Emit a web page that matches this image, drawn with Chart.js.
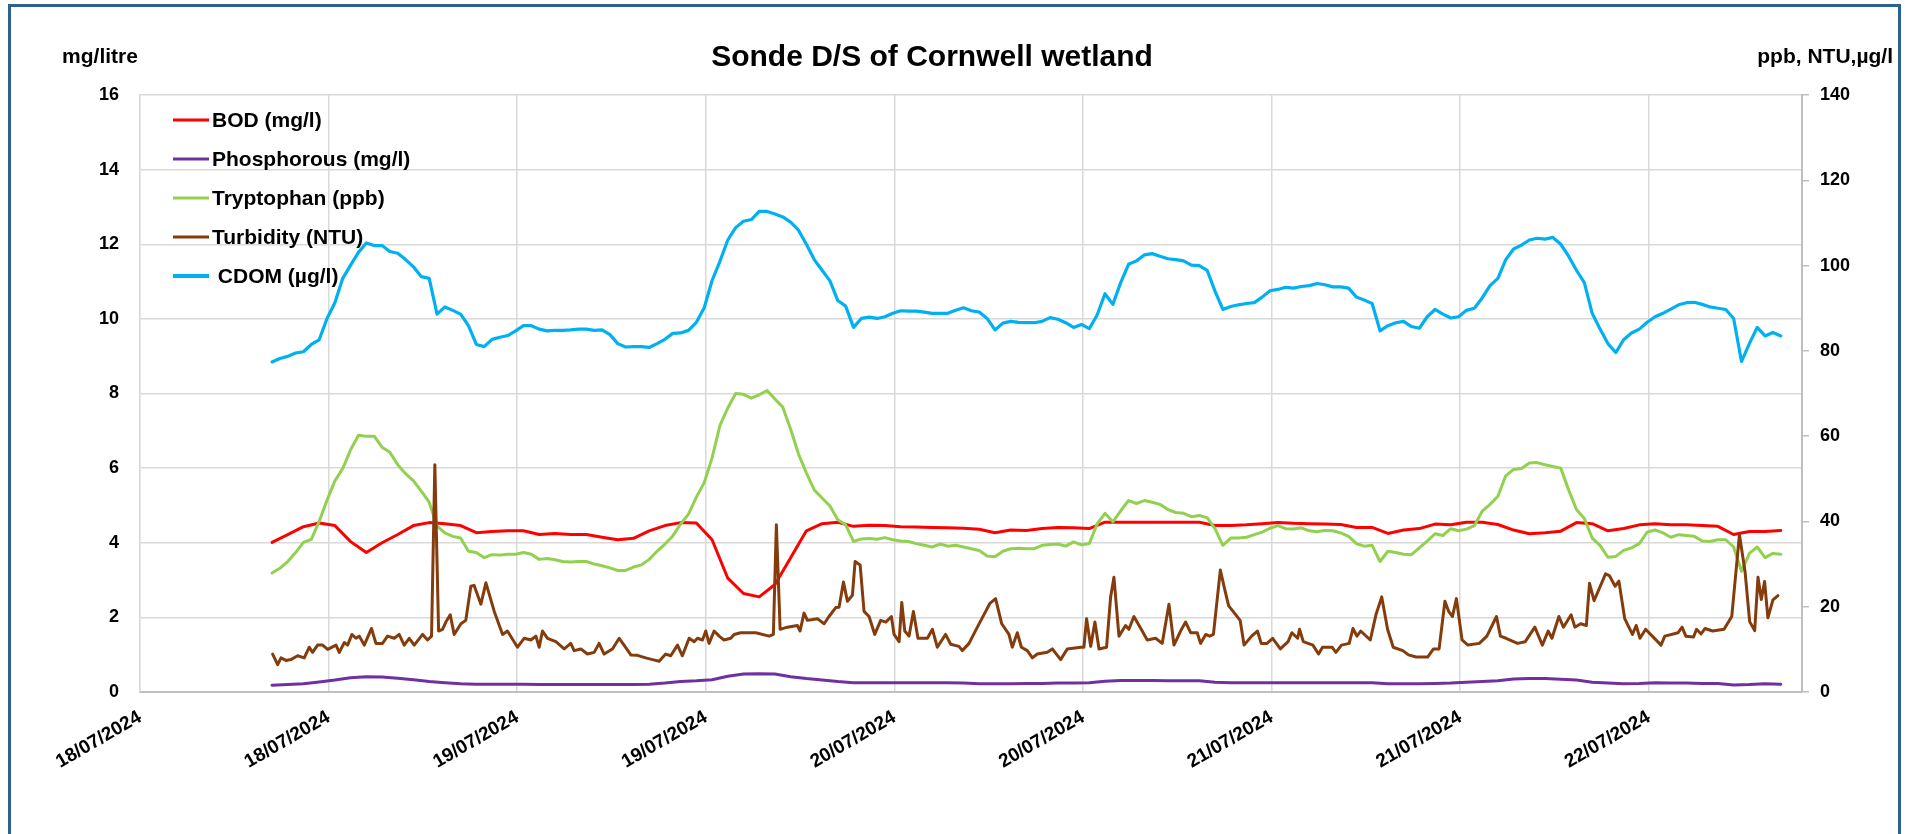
<!DOCTYPE html>
<html>
<head>
<meta charset="utf-8">
<script src="https://cdn.jsdelivr.net/npm/chart.js@4.4.1/dist/chart.umd.min.js"></script>
<style>
html,body{margin:0;padding:0;background:#ffffff;overflow:hidden}
canvas{display:block}
</style>
</head>
<body>
<canvas id="c" width="1905" height="834"></canvas>
<script>
// ---------- text ----------
const chartTitle = "Sonde D/S of Cornwell wetland";
const leftAxisTitle = "mg/litre";
const rightAxisTitle = "ppb, NTU,µg/l";
const seriesLabels = ["BOD (mg/l)", "Phosphorous (mg/l)", "Tryptophan (ppb)", "Turbidity (NTU)", " CDOM (µg/l)"];
const seriesColors = ["#ff0000", "#7030a0", "#92d050", "#843c0c", "#00b0f0"];
// x tick labels at every 12 hours from 18/07/2024 00:00
const xTickLabels = ["18/07/2024","18/07/2024","19/07/2024","19/07/2024","20/07/2024","20/07/2024","21/07/2024","21/07/2024","22/07/2024"];

// ---------- time (hours since 18/07/2024 00:00) ----------
const hourlyTimes = [8.4,9.4,10.4,11.4,12.4,13.4,14.4,15.4,16.4,17.4,18.4,19.4,20.4,21.4,22.4,23.4,24.4,25.4,26.4,27.4,28.4,29.4,30.4,31.4,32.4,33.4,34.4,35.4,36.4,37.4,38.4,39.4,40.4,41.4,42.4,43.4,44.4,45.4,46.4,47.4,48.4,49.4,50.4,51.4,52.4,53.4,54.4,55.4,56.4,57.4,58.4,59.4,60.4,61.4,62.4,63.4,64.4,65.4,66.4,67.4,68.4,69.4,70.4,71.4,72.4,73.4,74.4,75.4,76.4,77.4,78.4,79.4,80.4,81.4,82.4,83.4,84.4,85.4,86.4,87.4,88.4,89.4,90.4,91.4,92.4,93.4,94.4,95.4,96.4,97.4,98.4,99.4,100.4,101.4,102.4,103.4,104.4];
const halfHourTimes = [8.4,8.9,9.4,9.9,10.4,10.9,11.4,11.9,12.4,12.9,13.4,13.9,14.4,14.9,15.4,15.9,16.4,16.9,17.4,17.9,18.4,18.9,19.4,19.9,20.4,20.9,21.4,21.9,22.4,22.9,23.4,23.9,24.4,24.9,25.4,25.9,26.4,26.9,27.4,27.9,28.4,28.9,29.4,29.9,30.4,30.9,31.4,31.9,32.4,32.9,33.4,33.9,34.4,34.9,35.4,35.9,36.4,36.9,37.4,37.9,38.4,38.9,39.4,39.9,40.4,40.9,41.4,41.9,42.4,42.9,43.4,43.9,44.4,44.9,45.4,45.9,46.4,46.9,47.4,47.9,48.4,48.9,49.4,49.9,50.4,50.9,51.4,51.9,52.4,52.9,53.4,53.9,54.4,54.9,55.4,55.9,56.4,56.9,57.4,57.9,58.4,58.9,59.4,59.9,60.4,60.9,61.4,61.9,62.4,62.9,63.4,63.9,64.4,64.9,65.4,65.9,66.4,66.9,67.4,67.9,68.4,68.9,69.4,69.9,70.4,70.9,71.4,71.9,72.4,72.9,73.4,73.9,74.4,74.9,75.4,75.9,76.4,76.9,77.4,77.9,78.4,78.9,79.4,79.9,80.4,80.9,81.4,81.9,82.4,82.9,83.4,83.9,84.4,84.9,85.4,85.9,86.4,86.9,87.4,87.9,88.4,88.9,89.4,89.9,90.4,90.9,91.4,91.9,92.4,92.9,93.4,93.9,94.4,94.9,95.4,95.9,96.4,96.9,97.4,97.9,98.4,98.9,99.4,99.9,100.4,100.9,101.4,101.9,102.4,102.9,103.4,103.9,104.4];

// ---------- series values ----------
// BOD (mg/l), left axis, hourly
const bodValues = [4.01,4.22,4.43,4.53,4.46,4.03,3.74,4.00,4.22,4.46,
4.54,4.51,4.46,4.27,4.30,4.32,4.32,4.22,4.25,4.22,
4.22,4.15,4.08,4.12,4.32,4.46,4.54,4.53,4.08,3.05,
2.64,2.55,2.88,3.60,4.32,4.51,4.55,4.44,4.47,4.46,
4.43,4.42,4.41,4.40,4.39,4.36,4.27,4.34,4.33,4.38,
4.41,4.40,4.38,4.55,4.55,4.55,4.55,4.55,4.55,4.55,
4.46,4.46,4.48,4.51,4.54,4.52,4.51,4.50,4.49,4.41,
4.41,4.25,4.34,4.38,4.50,4.48,4.55,4.55,4.49,4.34,
4.24,4.27,4.31,4.54,4.51,4.32,4.38,4.48,4.51,4.48,
4.48,4.46,4.44,4.22,4.30,4.30,4.33];
// Phosphorous (mg/l), left axis, hourly
const phosphorousValues = [0.18,0.20,0.22,0.27,0.32,0.38,0.41,0.40,0.37,0.33,
0.28,0.25,0.22,0.21,0.21,0.21,0.21,0.20,0.20,0.20,
0.20,0.20,0.20,0.20,0.21,0.24,0.28,0.30,0.33,0.42,
0.48,0.49,0.48,0.41,0.36,0.32,0.28,0.25,0.25,0.25,
0.25,0.25,0.25,0.25,0.24,0.22,0.22,0.22,0.23,0.23,
0.24,0.24,0.25,0.29,0.31,0.31,0.31,0.30,0.30,0.30,
0.26,0.25,0.25,0.25,0.25,0.25,0.25,0.25,0.25,0.25,
0.25,0.22,0.22,0.22,0.23,0.24,0.26,0.28,0.30,0.35,
0.36,0.36,0.34,0.32,0.26,0.24,0.22,0.23,0.25,0.24,
0.24,0.23,0.23,0.19,0.20,0.22,0.21];
// Tryptophan (ppb), right axis, half-hourly
const tryptophanValues = [27.9,29.0,30.6,32.7,35.1,35.8,40.0,45.0,49.5,52.4,
56.8,60.2,60.0,60.0,57.4,56.2,53.3,51.2,49.5,47.1,
44.5,38.9,37.3,36.5,36.1,33.0,32.7,31.5,32.2,32.1,
32.3,32.3,32.7,32.3,31.1,31.3,31.0,30.6,30.5,30.6,
30.6,30.0,29.6,29.1,28.5,28.5,29.3,29.8,31.1,33.0,
34.7,36.6,39.4,41.7,45.7,49.1,54.9,62.5,66.6,70.0,
69.8,68.9,69.7,70.7,68.7,66.8,61.6,55.8,51.4,47.4,
45.5,43.6,40.4,39.2,35.3,35.9,36.0,35.8,36.2,35.7,
35.4,35.3,34.8,34.4,34.0,34.7,34.2,34.4,34.0,33.6,
33.2,31.9,31.7,33.0,33.6,33.7,33.6,33.6,34.4,34.6,
34.7,34.2,35.2,34.5,34.8,39.4,41.9,39.9,42.5,44.9,
44.2,44.9,44.5,44.0,42.8,42.1,41.9,41.1,41.4,40.9,
38.3,34.4,36.1,36.1,36.3,36.9,37.5,38.4,39.0,38.3,
38.2,38.5,37.8,37.6,37.9,37.8,37.3,36.5,34.8,34.2,
34.4,30.6,33.0,32.7,32.3,32.2,33.8,35.4,37.1,36.7,
38.3,37.8,38.2,39.0,42.4,44.0,45.9,50.7,52.2,52.4,
53.7,53.8,53.3,52.9,52.5,47.4,42.8,40.7,36.1,34.4,
31.6,31.8,33.2,33.8,34.8,37.5,38.0,37.3,36.3,36.9,
36.7,36.5,35.4,35.3,35.7,35.7,34.0,28.3,32.5,34.0,
31.5,32.5,32.3];
// CDOM (µg/l), right axis, half-hourly
const cdomValues = [77.4,78.2,78.7,79.5,79.8,81.5,82.6,87.6,91.3,97.0,
100.1,103.1,105.3,104.7,104.7,103.3,102.9,101.4,99.7,97.4,
97.0,88.6,90.3,89.5,88.6,85.9,81.5,81.0,82.7,83.2,
83.6,84.7,85.9,85.9,85.1,84.7,84.8,84.8,84.9,85.1,
85.1,84.8,84.9,83.8,81.7,80.9,81.0,81.0,80.8,81.7,
82.7,84.1,84.2,84.8,86.7,90.1,96.5,101.0,106.0,108.9,
110.4,110.8,112.7,112.7,112.1,111.4,110.2,108.3,105.0,101.4,
98.9,96.4,91.8,90.5,85.5,87.6,87.9,87.6,88.0,88.8,
89.4,89.3,89.3,89.1,88.8,88.8,88.8,89.5,90.1,89.4,
89.1,87.6,84.9,86.5,86.9,86.7,86.6,86.6,86.9,87.8,
87.4,86.6,85.5,86.2,85.2,88.4,93.4,90.9,96.0,100.3,
101.1,102.5,102.8,102.2,101.6,101.4,101.1,100.1,100.0,98.9,
94.0,89.7,90.4,90.8,91.1,91.3,92.6,94.1,94.4,94.9,
94.7,95.1,95.3,95.8,95.5,95.0,95.0,94.7,92.6,91.9,
91.1,84.7,85.9,86.6,86.9,85.7,85.3,88.0,89.7,88.6,
87.7,88.0,89.5,90.0,92.4,95.3,97.0,101.4,103.9,104.8,
106.0,106.4,106.2,106.6,105.0,102.2,98.9,96.0,88.8,85.1,
81.7,79.6,82.6,84.2,85.1,86.7,88.0,88.8,89.8,90.8,
91.3,91.4,90.9,90.3,90.0,89.7,87.6,77.5,81.7,85.5,
83.5,84.3,83.5];
// Turbidity (NTU), right axis, read at each turning point
const turbidityTimes = [8.44,8.76,8.97,9.29,9.60,10.03,10.45,10.77,10.98,11.30,11.62,11.94,12.47,12.68,13.00,13.21,13.48,13.74,13.95,14.27,14.73,15.01,15.43,15.75,16.18,16.49,16.81,17.13,17.45,17.98,18.30,18.55,18.76,19.00,19.25,19.46,19.74,19.99,20.42,20.73,21.05,21.26,21.69,22.01,22.54,23.07,23.38,24.02,24.44,24.87,25.19,25.40,25.61,25.93,26.46,26.99,27.41,27.62,28.05,28.47,28.90,29.21,29.53,30.06,30.49,30.80,31.23,31.65,32.18,32.61,33.03,33.45,33.77,34.20,34.51,34.94,35.26,35.47,35.79,36.00,36.21,36.53,36.85,37.16,37.59,37.80,38.22,39.18,40.03,40.30,40.49,40.73,41.19,41.83,42.00,42.25,42.47,43.10,43.53,43.84,44.27,44.48,44.76,45.01,45.33,45.50,45.82,46.07,46.39,46.75,47.13,47.45,47.81,47.98,48.30,48.47,48.66,48.93,49.21,49.50,50.10,50.42,50.73,51.26,51.58,52.11,52.32,52.75,53.28,53.81,54.08,54.44,54.83,55.29,55.50,55.82,56.08,56.46,56.78,57.09,57.73,58.05,58.58,59.00,59.85,60.06,60.23,60.49,60.76,61.02,61.50,61.76,61.97,62.29,62.71,62.92,63.24,63.77,64.09,64.62,65.04,65.47,65.79,66.21,66.53,66.85,67.27,67.48,67.81,68.06,68.30,68.74,69.03,69.27,69.64,70.00,70.25,70.73,71.10,71.34,71.71,72.07,72.56,73.05,73.29,73.66,73.78,74.02,74.63,74.99,75.24,75.85,76.09,76.45,76.94,77.18,77.43,77.67,78.28,78.64,79.01,79.38,79.74,80.35,80.71,81.20,81.93,82.30,82.66,83.03,83.27,83.51,83.76,84.12,84.49,85.22,85.70,86.31,86.56,86.92,87.65,88.14,88.75,89.23,89.60,89.84,90.28,90.57,91.06,91.30,91.67,92.03,92.23,92.52,93.25,93.49,93.86,94.10,94.47,94.96,95.20,95.44,95.80,96.41,96.78,97.02,97.87,98.12,98.36,98.85,99.04,99.33,99.58,100.06,100.79,101.28,101.77,102.13,102.42,102.74,102.95,103.16,103.37,103.58,103.90,104.22];
const turbidityValues = [8.9,6.4,8.0,7.4,7.6,8.5,8.0,10.5,9.3,11.0,11.0,10.0,11.0,9.3,11.6,11.0,13.5,12.6,13.1,11.0,14.9,11.4,11.4,13.1,12.6,13.5,11.0,12.6,11.0,13.5,12.2,13.1,53.3,14.3,14.7,16.4,18.1,13.5,16.0,16.8,24.8,25.0,20.6,25.6,18.9,13.5,14.3,10.5,12.6,12.2,13.1,10.5,14.3,12.6,11.8,10.1,11.4,9.7,10.1,8.9,9.3,11.4,8.9,10.1,12.6,11.0,8.7,8.6,8.0,7.6,7.2,8.9,8.5,11.0,8.5,12.6,11.8,12.6,12.2,14.3,11.4,14.3,13.1,12.2,12.6,13.5,13.9,13.9,13.1,13.5,39.2,14.7,15.2,15.6,14.3,18.5,16.8,17.2,16.0,17.7,19.8,19.9,25.8,21.3,22.7,30.6,29.8,18.9,17.7,13.5,16.8,16.4,17.7,13.5,11.8,21.0,14.3,13.1,18.9,12.6,12.6,14.7,10.5,13.5,11.2,10.7,9.7,11.4,15.2,18.9,20.8,21.9,16.0,13.5,10.5,13.9,10.5,9.7,8.0,8.9,9.3,10.1,7.6,10.1,10.5,10.5,17.2,10.7,16.4,10.1,10.5,22.3,26.9,13.1,15.6,14.7,17.7,14.3,12.2,12.6,11.4,20.6,11.0,14.3,16.4,13.9,13.9,11.4,13.5,13.1,13.5,28.6,23.9,20.2,18.5,16.8,11.0,13.1,14.3,11.4,11.4,12.6,10.1,11.8,13.9,12.6,14.7,11.8,11.0,8.9,10.5,10.5,9.3,11.0,11.4,14.9,13.1,14.3,12.2,18.1,22.3,14.7,10.5,9.7,8.7,8.2,8.2,10.1,10.1,21.3,18.9,17.7,21.9,12.2,11.0,11.4,13.1,17.7,13.1,12.6,11.4,11.8,15.2,11.0,14.3,12.6,17.7,15.2,18.1,15.2,16.0,15.6,25.5,21.4,27.7,27.3,24.8,26.0,17.2,13.5,15.6,12.6,14.7,12.4,11.0,13.1,13.9,15.2,13.1,12.9,14.7,13.6,14.9,14.3,14.7,17.7,36.9,28.1,16.5,14.4,26.9,21.7,25.9,17.4,21.6,22.6];

// ---------- build datasets ----------
function pts(times, vals){ return times.map((t,i)=>({x:t, y:vals[i]})); }

const FONT = '"Liberation Sans", Arial, sans-serif';

const datasets = [
  {label: seriesLabels[0], data: pts(hourlyTimes, bodValues), borderColor: seriesColors[0], yAxisID: 'y', order: 4, borderWidth: 3},
  {label: seriesLabels[1], data: pts(hourlyTimes, phosphorousValues), borderColor: seriesColors[1], yAxisID: 'y', order: 3, borderWidth: 3},
  {label: seriesLabels[2], data: pts(halfHourTimes, tryptophanValues), borderColor: seriesColors[2], yAxisID: 'y1', order: 2, borderWidth: 3},
  {label: seriesLabels[3], data: pts(turbidityTimes, turbidityValues), borderColor: seriesColors[3], yAxisID: 'y1', order: 1, borderWidth: 3},
  {label: seriesLabels[4], data: pts(halfHourTimes, cdomValues), borderColor: seriesColors[4], yAxisID: 'y1', order: 0, borderWidth: 3.2}
];
datasets.forEach(d => { d.pointRadius = 0; d.fill = false; d.tension = 0; d.backgroundColor = d.borderColor; d.borderJoinStyle = 'round'; d.borderCapStyle = 'round'; });

// ---------- plugins ----------
const frame = {
  id: 'frame',
  beforeDraw(chart){
    const c = chart.ctx;
    c.save(); c.fillStyle = '#ffffff'; c.fillRect(0,0,chart.width,chart.height); c.restore();
  },
  afterDraw(chart){
    const c = chart.ctx, a = chart.chartArea;
    c.save();
    // titles
    c.fillStyle = '#000000';
    c.textBaseline = 'alphabetic';
    c.textAlign = 'center';
    c.font = 'bold 30px ' + FONT;
    c.fillText(chartTitle, 932, 66);
    c.font = 'bold 21px ' + FONT;
    c.fillText(leftAxisTitle, 100, 63);
    c.textAlign = 'right';
    c.fillText(rightAxisTitle, 1893, 63);
    // legend inside plot
    c.textAlign = 'left';
    c.textBaseline = 'middle';
    chart.data.datasets.forEach((ds, i) => {
      const y = a.top + 25 + i * 39;
      c.strokeStyle = ds.borderColor;
      c.lineWidth = i === 4 ? 4 : 3;
      c.beginPath(); c.moveTo(a.left + 33, y); c.lineTo(a.left + 69, y); c.stroke();
      c.fillStyle = '#000000';
      c.font = 'bold 21px ' + FONT;
      c.fillText(ds.label, a.left + 72, y + 1);
    });
    // outer frame
    c.strokeStyle = '#2a6392';
    c.lineWidth = 3;
    c.strokeRect(9.5, 5.5, 1890, 860);
    c.restore();
  }
};

new Chart(document.getElementById('c'), {
  type: 'line',
  data: { datasets },
  options: {
    responsive: false,
    devicePixelRatio: 1,
    animation: false,
    layout: { padding: { top: 95, left: 0, right: 0, bottom: 0 } },
    plugins: { legend: { display: false }, title: { display: false }, tooltip: { enabled: false } },
    scales: {
      x: {
        type: 'linear',
        min: 0, max: 105.75,
        afterFit(s){ s.height = 142; },
        grid: { color: '#d9d9d9', lineWidth: 1.5, drawTicks: false },
        border: { color: '#bfbfbf', width: 2 },
        ticks: {
          stepSize: 12, includeBounds: false, autoSkip: false,
          minRotation: 30, maxRotation: 30, padding: 14,
          color: '#000000', font: { family: FONT, size: 19, weight: 'bold' },
          callback: (v) => xTickLabels[Math.round(v / 12)]
        }
      },
      y: {
        position: 'left',
        min: 0, max: 16,
        afterFit(s){ s.width = 140; },
        grid: { color: '#d9d9d9', lineWidth: 1.5, drawTicks: false },
        border: { color: '#d9d9d9', width: 1.5 },
        ticks: { stepSize: 2, padding: 21, color: '#000000', font: { family: FONT, size: 18, weight: 'bold' } }
      },
      y1: {
        position: 'right',
        min: 0, max: 140,
        afterFit(s){ s.width = 103; },
        grid: { drawOnChartArea: false, drawTicks: true, tickLength: 7, color: '#bfbfbf', lineWidth: 1.5 },
        border: { color: '#bfbfbf', width: 2 },
        ticks: { stepSize: 20, padding: 11, color: '#000000', font: { family: FONT, size: 18, weight: 'bold' } }
      }
    }
  },
  plugins: [frame]
});
</script>
</body>
</html>
